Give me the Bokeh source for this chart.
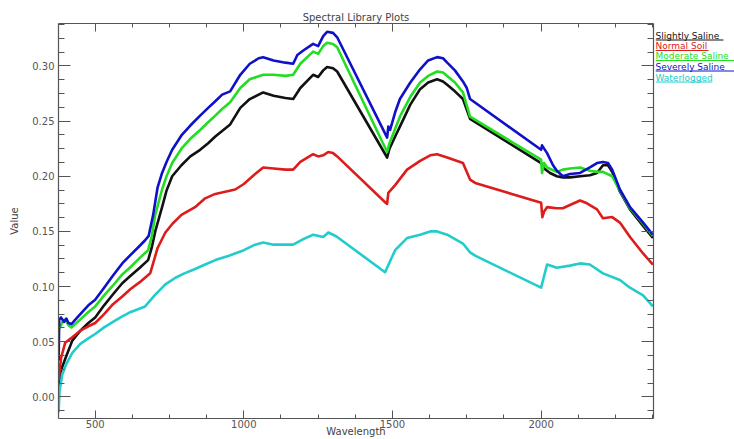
from bokeh.plotting import figure
from bokeh.layouts import row
from bokeh.models import Range1d, FixedTicker, PrintfTickFormatter, CustomJSTickFormatter, LinearAxis, ColumnDataSource
from bokeh.core.properties import value
from bokeh.embed import file_html
from bokeh.resources import INLINE

# ---------------- data ----------------
series_names = ["Slightly Saline", "Normal Soil", "Moderate Saline", "Severely Saline", "Waterlogged"]
series_colors = ["#111111", "#dd1c1c", "#22dd22", "#1010c8", "#22cccc"]

wl_slightly = [377, 383, 389, 400, 423, 450, 477, 500, 530, 560, 591, 620, 650, 678, 690, 702, 725, 740, 759,
               790, 820, 853, 880, 904, 927, 954, 988, 1020, 1065, 1100, 1140, 1166, 1190, 1233, 1250, 1267,
               1280, 1300, 1314, 1482, 1490, 1509, 1525, 1560, 1593, 1620, 1650, 1670, 1684, 1710, 1737, 1761,
               2000, 2010, 2030, 2053, 2073, 2097, 2131, 2164, 2188, 2208, 2225, 2239, 2265, 2299, 2343, 2376]
val_slightly = [0.006, 0.022, 0.027, 0.035, 0.051, 0.060, 0.067, 0.072, 0.083, 0.093, 0.103, 0.110, 0.117,
                0.124, 0.135, 0.150, 0.172, 0.187, 0.200, 0.210, 0.218, 0.224, 0.230, 0.236, 0.241, 0.247,
                0.262, 0.270, 0.276, 0.273, 0.271, 0.270, 0.280, 0.292, 0.290, 0.296, 0.299, 0.298, 0.295,
                0.217, 0.225, 0.236, 0.245, 0.265, 0.279, 0.285, 0.288, 0.286, 0.283, 0.277, 0.270, 0.252,
                0.212, 0.207, 0.203, 0.200, 0.199, 0.199, 0.200, 0.201, 0.203, 0.210, 0.210, 0.204, 0.186,
                0.170, 0.155, 0.144]

wl_normal = [377, 385, 399, 423, 450, 477, 500, 530, 560, 591, 620, 650, 685, 710, 736, 760, 790, 836, 870,
             904, 971, 1000, 1038, 1065, 1100, 1140, 1166, 1190, 1233, 1250, 1267, 1284, 1300, 1314, 1477,
             1482, 1486, 1509, 1549, 1593, 1627, 1650, 1684, 1737, 1761, 1778, 2000, 2004, 2010, 2020, 2053,
             2073, 2097, 2131, 2150, 2188, 2208, 2239, 2265, 2299, 2343, 2376]
val_normal = [0.015, 0.035, 0.049, 0.054, 0.060, 0.064, 0.067, 0.075, 0.084, 0.091, 0.098, 0.104, 0.112,
              0.135, 0.149, 0.157, 0.165, 0.172, 0.180, 0.184, 0.188, 0.193, 0.202, 0.208, 0.207, 0.206,
              0.206, 0.213, 0.220, 0.218, 0.219, 0.222, 0.221, 0.218, 0.176, 0.175, 0.185, 0.192, 0.206,
              0.214, 0.219, 0.220, 0.217, 0.212, 0.197, 0.194, 0.176, 0.163, 0.168, 0.172, 0.171, 0.171,
              0.174, 0.178, 0.176, 0.170, 0.162, 0.163, 0.158, 0.145, 0.130, 0.120]

wl_moderate = [380, 390, 399, 410, 420, 433, 477, 500, 530, 560, 591, 620, 650, 678, 690, 702, 725, 740, 759,
               790, 820, 853, 880, 904, 927, 954, 988, 1020, 1065, 1100, 1140, 1166, 1190, 1233, 1250, 1267,
               1280, 1300, 1314, 1482, 1490, 1509, 1525, 1560, 1593, 1620, 1650, 1670, 1684, 1710, 1737, 1761,
               2000, 2003, 2010, 2020, 2053, 2073, 2097, 2131, 2164, 2188, 2208, 2239, 2265, 2299, 2343, 2376]
val_moderate = [0.062, 0.068, 0.070, 0.065, 0.063, 0.066, 0.077, 0.082, 0.092, 0.101, 0.111, 0.118, 0.126,
                0.133, 0.145, 0.165, 0.188, 0.200, 0.212, 0.225, 0.234, 0.242, 0.249, 0.255, 0.261, 0.267,
                0.280, 0.288, 0.292, 0.292, 0.291, 0.292, 0.302, 0.313, 0.311, 0.318, 0.321, 0.320, 0.317,
                0.222, 0.230, 0.243, 0.254, 0.272, 0.285, 0.291, 0.295, 0.294, 0.291, 0.285, 0.276, 0.254,
                0.215, 0.203, 0.212, 0.208, 0.204, 0.206, 0.207, 0.208, 0.205, 0.204, 0.204, 0.200, 0.187,
                0.171, 0.157, 0.146]

wl_severely = [377, 379, 385, 395, 403, 410, 420, 440, 477, 500, 530, 560, 591, 620, 650, 668, 680, 695, 710,
               725, 740, 759, 790, 820, 853, 880, 904, 927, 954, 988, 1020, 1050, 1065, 1100, 1140, 1166, 1180,
               1200, 1233, 1250, 1267, 1280, 1300, 1314, 1482, 1486, 1492, 1509, 1525, 1560, 1593, 1620, 1650,
               1670, 1684, 1710, 1737, 1750, 1761, 2000, 2003, 2020, 2040, 2053, 2073, 2097, 2131, 2164, 2188,
               2208, 2225, 2239, 2265, 2299, 2343, 2376]
val_severely = [0.033, 0.070, 0.072, 0.068, 0.071, 0.067, 0.066, 0.072, 0.083, 0.088, 0.099, 0.110, 0.121,
                0.129, 0.137, 0.142, 0.146, 0.165, 0.190, 0.203, 0.213, 0.224, 0.237, 0.246, 0.255, 0.262,
                0.268, 0.274, 0.277, 0.292, 0.302, 0.307, 0.308, 0.305, 0.303, 0.302, 0.310, 0.314, 0.320,
                0.318, 0.327, 0.331, 0.330, 0.326, 0.235, 0.245, 0.242, 0.258, 0.270, 0.285, 0.297, 0.305,
                0.308, 0.307, 0.303, 0.296, 0.286, 0.280, 0.270, 0.224, 0.228, 0.221, 0.210, 0.205, 0.200,
                0.202, 0.203, 0.208, 0.212, 0.213, 0.212, 0.206, 0.188, 0.172, 0.158, 0.147]

wl_water = [377, 380, 389, 403, 423, 450, 477, 500, 530, 560, 591, 620, 668, 700, 736, 770, 800, 836, 870, 904,
            950, 1000, 1038, 1065, 1100, 1166, 1200, 1233, 1267, 1284, 1300, 1314, 1475, 1509, 1549, 1593,
            1627, 1650, 1684, 1737, 1761, 1778, 2000, 2020, 2053, 2097, 2131, 2164, 2208, 2265, 2299, 2343, 2376]
val_water = [-0.014, 0.005, 0.020, 0.030, 0.040, 0.048, 0.053, 0.057, 0.063, 0.068, 0.073, 0.077, 0.082,
             0.092, 0.102, 0.108, 0.112, 0.116, 0.120, 0.124, 0.128, 0.133, 0.138, 0.140, 0.138, 0.138,
             0.143, 0.147, 0.145, 0.149, 0.147, 0.145, 0.113, 0.133, 0.144, 0.147, 0.150, 0.150, 0.147,
             0.139, 0.131, 0.128, 0.099, 0.120, 0.117, 0.119, 0.121, 0.120, 0.112, 0.106, 0.099, 0.092, 0.082]

x_major_ticks = [500, 1000, 1500, 2000]
y_major_ticks = [0.00, 0.05, 0.10, 0.15, 0.20, 0.25, 0.30]
title_text = "Spectral Library Plots"
x_label = "Wavelength"
y_label = "Value"

# ---------------- main figure ----------------
X0, X1 = 376.6, 2378.0
Y0, Y1 = -0.0196, 0.3385
FONT = "DejaVu Sans"
AX = "#555555"
TXT = "#444444"
TOTAL_W, H = 734, 439
BORDER_TOP, BORDER_BOTTOM, BORDER_LEFT, BORDER_RIGHT = 23, 21, 58, 2
FRAME_W = 595
W_MAIN = BORDER_LEFT + FRAME_W + BORDER_RIGHT
W_LEG = TOTAL_W - W_MAIN

p = figure(width=W_MAIN, height=H, output_backend="svg", toolbar_location=None,
           x_range=Range1d(X0, X1), y_range=Range1d(Y0, Y1),
           min_border_left=BORDER_LEFT, min_border_right=BORDER_RIGHT,
           min_border_top=BORDER_TOP, min_border_bottom=BORDER_BOTTOM,
           x_axis_location=None, y_axis_location=None)
p.outline_line_color = None
p.xgrid.visible = False
p.ygrid.visible = False
p.border_fill_color = "white"
p.title.text = title_text
p.title.align = "center"
p.title.text_font = FONT
p.title.text_font_size = "10px"
p.title.text_font_style = "normal"
p.title.text_color = TXT
p.title.standoff = 1
p.title.offset = 0

x_minor = [375 + 125 * i for i in range(17) if (375 + 125 * i) % 500 != 0]
y_minor = [round(-0.0125 + 0.0125 * i, 4) for i in range(30)]
y_minor = [v for v in y_minor if abs(round(v / 0.05) * 0.05 - v) > 1e-6]
blank = CustomJSTickFormatter(code="return ''")


def style(ax, major_len, minor_len, labels=True):
    ax.axis_line_color = AX
    ax.axis_line_width = 1.2
    ax.major_tick_line_color = AX
    ax.minor_tick_line_color = AX
    ax.major_tick_in = major_len
    ax.major_tick_out = 0
    ax.minor_tick_in = minor_len
    ax.minor_tick_out = 0
    ax.major_label_text_font = FONT
    ax.major_label_text_color = "#555555"
    ax.major_label_text_font_size = "10px"
    ax.axis_label_text_font = FONT
    ax.axis_label_text_font_size = "10px"
    ax.axis_label_text_font_style = "normal"
    ax.axis_label_text_color = TXT
    if not labels:
        ax.major_label_standoff = 0


xb = LinearAxis(ticker=FixedTicker(ticks=x_major_ticks, minor_ticks=x_minor), axis_label=x_label)
style(xb, 8, 4)
xb.major_label_standoff = 1
xb.axis_label_standoff = -5
xt = LinearAxis(ticker=FixedTicker(ticks=x_major_ticks, minor_ticks=x_minor), formatter=blank)
style(xt, 8, 4, labels=False)
yl = LinearAxis(ticker=FixedTicker(ticks=y_major_ticks, minor_ticks=y_minor),
                formatter=PrintfTickFormatter(format="%.2f"), axis_label=y_label)
style(yl, 12, 6)
yl.major_label_standoff = 4
yl.axis_label_standoff = 9
yr = LinearAxis(ticker=FixedTicker(ticks=y_major_ticks, minor_ticks=y_minor), formatter=blank)
style(yr, 12, 6, labels=False)
p.add_layout(xb, "below")
p.add_layout(xt, "above")
p.add_layout(yl, "left")
p.add_layout(yr, "right")

all_wl = [wl_slightly, wl_normal, wl_moderate, wl_severely, wl_water]
all_val = [val_slightly, val_normal, val_moderate, val_severely, val_water]
for wl, val, col in zip(all_wl, all_val, series_colors):
    p.line(wl, val, line_color=col, line_width=2.6, line_join="round")

# ---------------- legend panel (coloured, underlined names) ----------------
q = figure(width=W_LEG, height=H, output_backend="svg", toolbar_location=None,
           x_range=Range1d(0, W_LEG), y_range=Range1d(Y0, Y1),
           min_border_left=0, min_border_right=0,
           min_border_top=BORDER_TOP, min_border_bottom=BORDER_BOTTOM,
           x_axis_location=None, y_axis_location=None)
q.outline_line_color = None
q.xgrid.visible = False
q.ygrid.visible = False
q.border_fill_color = "white"

px_per_val = (H - BORDER_TOP - BORDER_BOTTOM) / (Y1 - Y0)
legend_rows_px = [12, 22.5, 32.5, 43, 54]          # row centres, px below frame top
underline_len = [68, 53, W_LEG, W_LEG, 57]
ys = [Y1 - r / px_per_val for r in legend_rows_px]
yu = [Y1 - (r + 4.5) / px_per_val for r in legend_rows_px]
src = ColumnDataSource(dict(x=[0] * 5, y=ys, yu=yu, xe=underline_len, text=series_names, color=series_colors))
q.text(x="x", y="y", text="text", text_color="color", source=src, text_font=value(FONT),
       text_font_size="9px", text_align="left", text_baseline="middle")
q.segment(x0="x", y0="yu", x1="xe", y1="yu", line_color="color", line_width=1, source=src)

layout = row(p, q, spacing=0)
open("out.html", "w").write(file_html(layout, INLINE))
